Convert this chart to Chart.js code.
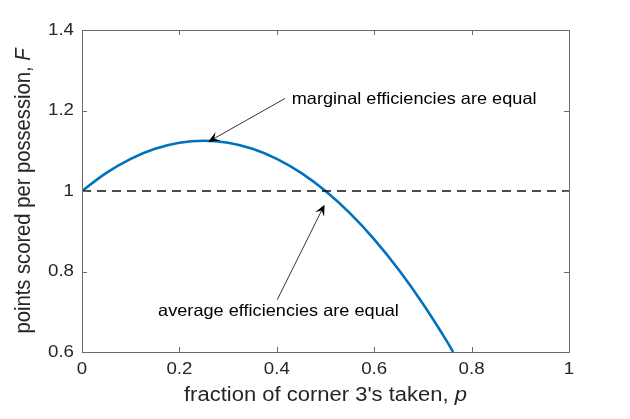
<!DOCTYPE html>
<html>
<head>
<meta charset="utf-8">
<script src="https://cdn.jsdelivr.net/npm/chart.js@4.4.1/dist/chart.umd.min.js"></script>
<style>
  html, body { margin: 0; padding: 0; background: #fff; }
  #wrap { width: 630px; height: 419px; }
</style>
</head>
<body>
<div id="wrap"><canvas id="fChart" width="630" height="419"></canvas></div>
<script>
// values
const pValues = [0, 0.05, 0.1, 0.15, 0.2, 0.25, 0.3, 0.35, 0.4, 0.45, 0.5, 0.55, 0.6, 0.65, 0.7, 0.75, 0.762];
const fValues = [1, 1.045, 1.08, 1.105, 1.12, 1.125, 1.12, 1.105, 1.08, 1.045, 1.0, 0.945, 0.88, 0.805, 0.72, 0.625, 0.6];
const refP = [0, 1];
const refF = [1, 1];
const xTicks = [0, 0.2, 0.4, 0.6, 0.8, 1];
const yTicks = [0.6, 0.8, 1, 1.2, 1.4];

// annotations: text baseline start and arrow (tail -> head), in data units
const notes = [
    { text: 'marginal efficiencies are equal', tx: 0.4306, ty: 1.2164, from: [0.417, 1.23], to: [0.2596, 1.1224] },
    { text: 'average efficiencies are equal', tx: 0.1562, ty: 0.6886, from: [0.401, 0.73], to: [0.498, 0.966] }
];

const axisColor = '#262626';
const fontFam = '"Liberation Sans", Arial, Helvetica, sans-serif';
const SX = 1.1; // glyphs in the picture are a little wide

function wideText(ctx, s, x, y, align, base) {
    ctx.save();
    ctx.translate(x, y);
    ctx.scale(SX, 1);
    ctx.textAlign = align;
    ctx.textBaseline = base;
    ctx.fillText(s, 0, 0);
    ctx.restore();
}

// box, inward ticks, tick labels, axis titles, annotations
const matlabAxes = {
    id: 'matlabAxes',
    afterDraw(chart) {
        const ctx = chart.ctx;
        const xs = chart.scales.x, ys = chart.scales.y;
        const a = chart.chartArea;
        ctx.save();
        ctx.strokeStyle = '#6b6b6b';
        ctx.lineWidth = 1;
        ctx.strokeRect(Math.round(a.left) + 0.5, Math.round(a.top) + 0.5,
            Math.round(a.right - a.left), Math.round(a.bottom - a.top));

        // ticks
        ctx.beginPath();
        xTicks.forEach(v => {
            const px = Math.round(xs.getPixelForValue(v)) + 0.5;
            ctx.moveTo(px, a.bottom); ctx.lineTo(px, a.bottom - 5);
            ctx.moveTo(px, a.top); ctx.lineTo(px, a.top + 5);
        });
        yTicks.forEach(v => {
            const py = Math.round(ys.getPixelForValue(v)) + 0.5;
            ctx.moveTo(a.left, py); ctx.lineTo(a.left + 5, py);
            ctx.moveTo(a.right, py); ctx.lineTo(a.right - 5, py);
        });
        ctx.stroke();

        // tick labels
        ctx.fillStyle = axisColor;
        ctx.font = '17px ' + fontFam;
        xTicks.forEach(v => {
            wideText(ctx, String(v), xs.getPixelForValue(v), a.bottom + 17, 'center', 'middle');
        });
        yTicks.forEach(v => {
            wideText(ctx, String(v), a.left - 8, ys.getPixelForValue(v), 'right', 'middle');
        });

        // x title (p italic)
        drawTitle(ctx, 'fraction of corner 3\'s taken, ', 'p', 20, (a.left + a.right) / 2, a.bottom + 43, false);
        // y title, rotated (F italic)
        drawTitle(ctx, 'points scored per possession, ', 'F', 20.2, a.left - 58, (a.top + a.bottom) / 2, true);

        // annotations
        ctx.fillStyle = '#000';
        ctx.strokeStyle = '#000';
        ctx.font = '16.5px ' + fontFam;
        notes.forEach(n => {
            wideText(ctx, n.text, xs.getPixelForValue(n.tx), ys.getPixelForValue(n.ty), 'left', 'alphabetic');
            const x1 = xs.getPixelForValue(n.from[0]), y1 = ys.getPixelForValue(n.from[1]);
            const x2 = xs.getPixelForValue(n.to[0]), y2 = ys.getPixelForValue(n.to[1]);
            const ang = Math.atan2(y2 - y1, x2 - x1);
            ctx.lineWidth = 0.8;
            ctx.beginPath();
            ctx.moveTo(x1, y1);
            ctx.lineTo(x2 - 6 * Math.cos(ang), y2 - 6 * Math.sin(ang));
            ctx.stroke();
            // filled head, back-swept
            const len = 11, half = 5;
            const bx = x2 - len * Math.cos(ang), by = y2 - len * Math.sin(ang);
            const mx = x2 - len * 0.6 * Math.cos(ang), my = y2 - len * 0.6 * Math.sin(ang);
            ctx.beginPath();
            ctx.moveTo(x2, y2);
            ctx.lineTo(bx + half * Math.sin(ang), by - half * Math.cos(ang));
            ctx.lineTo(mx, my);
            ctx.lineTo(bx - half * Math.sin(ang), by + half * Math.cos(ang));
            ctx.closePath();
            ctx.fill();
        });
        ctx.restore();
    }
};

function drawTitle(ctx, plain, ital, size, cx, cy, rotated) {
    const base = size + 'px ' + fontFam;
    ctx.save();
    ctx.font = base;
    const w1 = ctx.measureText(plain).width;
    ctx.font = 'italic ' + base;
    const w2 = ctx.measureText(ital).width;
    ctx.translate(cx, cy);
    if (rotated) {
        ctx.rotate(-Math.PI / 2);
        ctx.scale(1, SX);
    } else {
        ctx.scale(SX, 1);
    }
    const start = -(w1 + w2) / 2;
    ctx.textAlign = 'left';
    ctx.textBaseline = 'middle';
    ctx.fillStyle = axisColor;
    ctx.font = base;
    ctx.fillText(plain, start, 0);
    ctx.font = 'italic ' + base;
    ctx.fillText(ital, start + w1, 0);
    ctx.restore();
}

const curveData = pValues.map((p, i) => ({ x: p, y: fValues[i] }));
const refData = refP.map((p, i) => ({ x: p, y: refF[i] }));

new Chart(document.getElementById('fChart'), {
    type: 'line',
    data: {
        datasets: [
            {
                data: refData,
                borderColor: '#111',
                borderWidth: 1.5,
                borderDash: [9, 6],
                pointRadius: 0,
                tension: 0
            },
            {
                data: curveData,
                borderColor: '#0072BD',
                borderWidth: 2.6,
                pointRadius: 0,
                tension: 0.4,
                cubicInterpolationMode: 'monotone'
            }
        ]
    },
    options: {
        responsive: false,
        animation: false,
        events: [],
        layout: { padding: { left: 0, right: 61, top: 30, bottom: 0 } },
        plugins: { legend: { display: false }, tooltip: { enabled: false } },
        scales: {
            x: {
                type: 'linear', min: 0, max: 1,
                grid: { display: false, drawTicks: false },
                border: { display: false },
                ticks: { display: false },
                afterFit(s) { s.height = 67; }
            },
            y: {
                type: 'linear', min: 0.6, max: 1.4,
                grid: { display: false, drawTicks: false },
                border: { display: false },
                ticks: { display: false },
                afterFit(s) { s.width = 82; }
            }
        }
    },
    plugins: [matlabAxes]
});
</script>
</body>
</html>
